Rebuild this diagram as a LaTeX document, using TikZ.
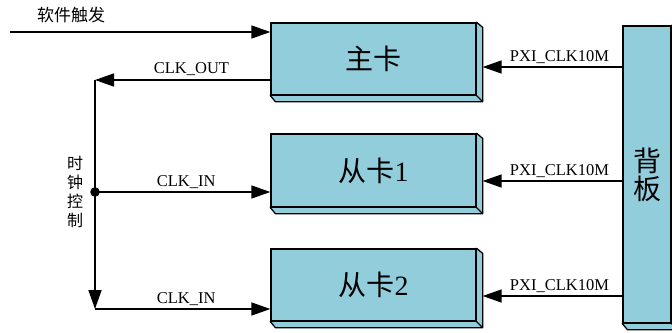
\documentclass[tikz,border=0pt]{standalone}
\usepackage{fontspec}
\setmainfont{Liberation Serif}
\newfontfamily\cjk{Noto Sans CJK SC}
\usetikzlibrary{arrows.meta,backgrounds}
\definecolor{cardblue}{RGB}{146,205,220}
\tikzset{
  card/.style={draw=black, line width=1.3pt, fill=cardblue, inner sep=0pt,
    font=\fontsize{28}{30}\selectfont},
  conn/.style={line width=1.5pt, -{Triangle[length=19pt,width=13pt]}},
  lbl/.style={font=\fontsize{16.5}{18}\selectfont, inner sep=1pt},
  cjklbl/.style={font=\cjk\fontsize{16}{19}\selectfont, inner sep=0pt, align=center},
  shadow/.style={fill=cardblue, draw=black, line width=1.3pt, line join=round},
}
\newcommand{\shadowbox}[1]{%
  \filldraw[shadow]
    (#1.north east) -- ([xshift=6pt,yshift=-5pt]#1.north east)
    -- ([xshift=6pt,yshift=-6pt]#1.south east)
    -- ([xshift=5pt,yshift=-6pt]#1.south west)
    -- (#1.south west) -- cycle;
  \draw[line width=1.3pt] (#1.south east) -- ([xshift=6pt,yshift=-6pt]#1.south east);}
\begin{document}
\begin{tikzpicture}[x=1pt,y=-1pt]
\useasboundingbox (0,0) rectangle (672,332);
% cards
\node[card, minimum width=205pt, minimum height=72pt] (main) at (373.5,59) {\cjk 主卡};
\node[card, minimum width=205pt, minimum height=73pt] (s1) at (373.5,170.5) {\cjk 从卡\rmfamily 1};
\node[card, minimum width=205pt, minimum height=72pt] (s2) at (373.5,285) {\cjk 从卡\rmfamily 2};
\node[card, minimum width=48pt, minimum height=297pt, align=center] (bp) at (647,174.5) {\cjk 背\\[-2pt]\cjk 板};
\begin{scope}[on background layer]
\shadowbox{main}
\shadowbox{s1}
\shadowbox{s2}
\shadowbox{bp}
\end{scope}
% coordinates
\coordinate (trig) at (10,32);
\coordinate (c1) at (95,80);
\coordinate (dot) at (95,192);
\coordinate (c2) at (95,309);
% software trigger
\draw[conn] (trig) -- (main.west |- trig);
\node[cjklbl, font=\cjk\fontsize{17}{19}\selectfont] (sw) at (71,15) {软件触发};
% clock out
\draw[conn] (main.west |- c1) -- node[lbl, above=3pt, pos=0.45] (lo) {CLK\_OUT} (c1);
\draw[conn] (c1) -- (c2);
\draw[conn] (dot) -- node[lbl, above=2pt, pos=0.52] (li1) {CLK\_IN} (s1.west |- dot);
\draw[conn] (c2) -- node[lbl, above=2pt, pos=0.52] (li2) {CLK\_IN} (s2.west |- c2);
\fill (dot) circle (4.8pt);
\node[cjklbl] (ctl) at (75,192) {时\\钟\\控\\制};
% PXI
\draw[conn] (bp.west |- 0,67) -- node[lbl, above=2pt, pos=0.45] (p0) {PXI\_CLK10M} ([xshift=6pt]main.east |- 0,67);
\draw[conn] (bp.west |- 0,181) -- node[lbl, above=2pt, pos=0.45] (p1) {PXI\_CLK10M} ([xshift=6pt]s1.east |- 0,181);
\draw[conn] (bp.west |- 0,296) -- node[lbl, above=2pt, pos=0.45] (p2) {PXI\_CLK10M} ([xshift=6pt]s2.east |- 0,296);
\end{tikzpicture}
\end{document}
